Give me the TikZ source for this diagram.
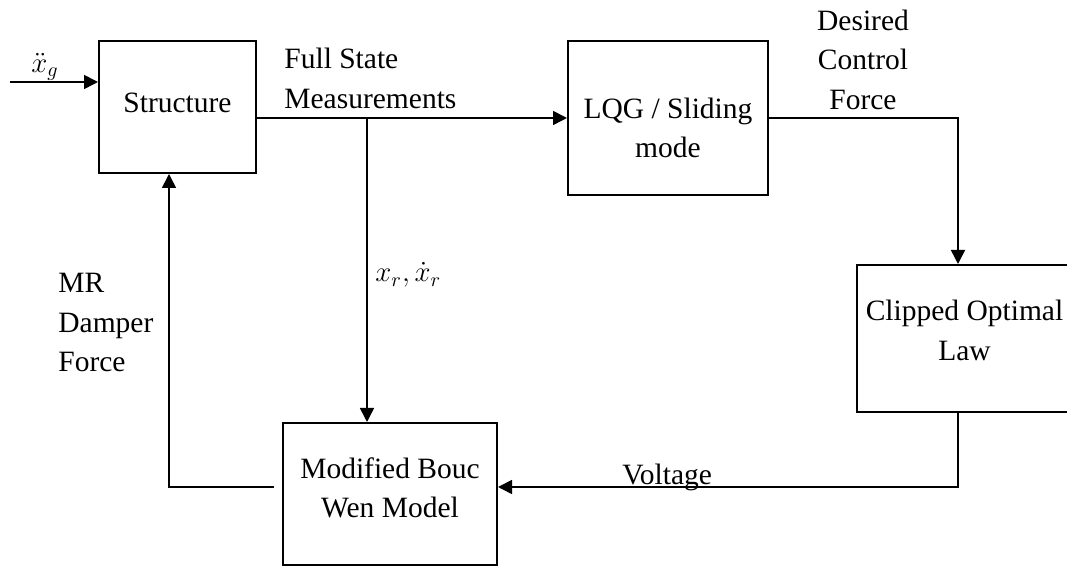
\documentclass[tikz,border=0pt]{standalone}
\usepackage{fontspec}
\setmainfont{Liberation Serif}
\usetikzlibrary{arrows.meta,positioning}

\begin{document}
\begin{tikzpicture}[x=0.5pt,y=-0.5pt,
 blockbox/.style={draw=black,line width=1pt,inner sep=0pt},
 boxtext/.style={align=center,inner sep=0pt,font=\fontsize{14.75pt}{19.75pt}\selectfont},
 sigtext/.style={inner sep=0pt,font=\fontsize{14.75pt}{19.75pt}\selectfont},
 sigarrow/.style={-{Triangle[length=7pt,width=7pt]},line width=0.8pt,draw=black}
]
\useasboundingbox (0,0) rectangle (1067,576);
\node[blockbox,minimum width=78.5pt,minimum height=66pt,
  label={[boxtext,yshift=2.25pt]center:Structure}] (structure) at (177.5,107) {};
\node[blockbox,minimum width=100pt,minimum height=77pt,
  label={[boxtext,yshift=-5pt]center:{LQG / Sliding\\mode}}] (lqg) at (668,118) {};
\node[blockbox,minimum width=107.5pt,minimum height=73.5pt,
  label={[boxtext,yshift=4pt]center:{Clipped Optimal\\Law}}] (clipped) at (964.5,338.5) {};
\node[blockbox,minimum width=107pt,minimum height=71pt,
  label={[boxtext,yshift=3pt]center:{Modified Bouc\\Wen Model}}] (bouc) at (390,494) {};
% signal names
\node[sigtext] (xg) at (45,67) {$\ddot{x}_g$};
\node[sigtext,align=left,anchor=west] (fsm) at (284,78.5) {Full State\\Measurements};
\node[sigtext,align=center] (dcf) at (863,59.5) {Desired\\Control\\Force};
\node[sigtext,align=left,anchor=west] (mrf) at (58,322.5) {MR\\Damper\\Force};
\node[sigtext,anchor=west] (xr) at (375,275) {$x_r,\dot{x}_r$};
\node[sigtext,anchor=base west] (volt) at (622,485) {Voltage};
% bends and free ends
\coordinate (gin) at (10,82);
\coordinate (tap) at (367,118);
\coordinate (hturn) at (958,118);
\coordinate (vdrop) at (958,487);
\coordinate (retstart) at (274,487);
\coordinate (ret) at (169,487);
\draw[sigarrow] (gin) -- (gin -| structure.west);
\draw[sigarrow] (structure.east |- lqg.west) -- (lqg.west);
\draw[sigarrow] (tap) -- (tap |- bouc.north);
\draw[sigarrow] (lqg.east) -- (hturn) -- (hturn |- clipped.north);
\draw[sigarrow] (vdrop |- clipped.south) -- (vdrop) -- (vdrop -| bouc.east);
\draw[sigarrow] (retstart) -- (ret) -- (ret |- structure.south);
\end{tikzpicture}
\end{document}
